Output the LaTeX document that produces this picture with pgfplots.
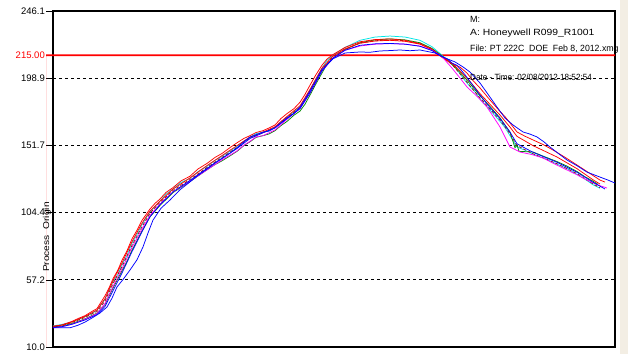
\documentclass[border=0pt]{standalone}
\usepackage{fontspec}
\setmainfont{Liberation Sans}
\usepackage{pgfplots}
\pgfplotsset{compat=1.18}
\definecolor{mag}{RGB}{255,0,255}
\definecolor{cy}{RGB}{0,230,230}
\definecolor{gr}{RGB}{0,140,0}
\definecolor{dred}{RGB}{150,20,20}
\definecolor{beige}{RGB}{243,238,228}
\definecolor{limred}{RGB}{255,0,0}
\begin{document}
\begin{tikzpicture}[x=1pt,y=1pt]
\useasboundingbox (0,0) rectangle (628,354);
\fill[white] (0,0) rectangle (628,354);
\fill[beige] (620,0) rectangle (628,354);
\begin{axis}[
  at={(53pt,7pt)}, anchor=south west,
  scale only axis, width=562pt, height=336pt,
  xmin=53, xmax=615, ymin=10, ymax=246.1,
  axis line style={line width=1.8pt},
  xtick=\empty,
  ytick={10,57.2,104.4,151.7,198.9,246.1},
  yticklabels={10.0,57.2,104.4,151.7,198.9,246.1},
  yticklabel style={font=\fontsize{9.5}{10}\selectfont, inner xsep=1pt},
  tick align=outside, tick pos=left,
  major tick length=7pt,
  tick style={black, line width=0.6pt},
  ymajorgrids, major grid style={black, dashed, line width=0.7pt},
  clip=false,
  every axis plot/.append style={line width=0.75pt},
]
% limit line (as a thin filled band)
\addplot[fill=limred, draw=none, forget plot] coordinates {(46,214.4) (615,214.4) (615,215.6) (46,215.6)} \closedcycle;
% cyan
\addplot[cy] coordinates {(53,24.8) (62,25.9) (72,27.6) (79,29.6) (85,31.4) (91,33.2) (97,35.8) (105,43.5) (113,56) (118,61.2) (122,68) (127,74.3) (132,83) (137,89) (142,96) (150,105) (160,112.5) (166,117.4) (173,121) (181,125.6) (190,128.5) (198,133.2) (207,137) (215,141.1) (222,144) (230,147.6) (237,151) (244,154.7) (250,157.5) (256,159.9) (263,161) (269,162.2) (275,164.5) (281,168.4) (287,171.5) (294,175.3) (300,179) (305,183.7) (310,190.5) (316,198.5) (322,206) (327,211.4) (333,215) (345,220.5) (360,225.5) (375,227.8) (390,228.5) (405,227.8) (420,225.5) (432,221) (442,215) (452,209) (460,202) (465,197.2) (470,193) (475,189.2) (480,184.5) (490,176.5) (500,168.5) (505,164.2) (510,158.5) (517,150.5) (525,148.3) (533,145.5) (545,142.4) (557,138.5) (567,135.4) (577,131.3) (585,127.9) (593,124) (600,121.5)};
% green
\addplot[gr] coordinates {(53,24.1) (62,24.8) (72,26.5) (85,29.8) (97,33.8) (105,40) (109,45.6) (113,51.5) (122,63.5) (127,70.2) (132,78) (142,91.5) (150,101.5) (160,109.5) (173,118.5) (190,126.3) (207,134.5) (215,138.2) (222,140.8) (230,144.3) (237,147.5) (244,151.6) (250,154.2) (256,157.3) (263,158.5) (269,159.7) (275,162) (281,165.6) (287,168.5) (294,172.9) (300,175.8) (305,180.6) (310,187) (316,195) (322,202.5) (327,208.8) (333,213) (345,219) (360,223.8) (375,225.8) (390,226.5) (405,225.8) (420,223.8) (432,219.8) (442,214.5) (452,208.5) (460,203) (470,195) (480,186.5) (490,179) (500,171) (510,161) (515,150) (517,152) (519,147.5) (533,147) (545,143.6) (557,140.3) (567,137.1) (577,133.3) (585,129.6) (593,126.5) (598,124.3)};
% dark red dashed
\addplot[dred, densely dashed] coordinates {(53,24.3) (62,25) (72,27.2) (85,30.8) (97,35) (105,42.3) (113,54.5) (122,66.5) (132,81.3) (142,94.5) (150,104) (160,111.7) (173,120) (190,127.7) (207,136.2) (222,143.2) (237,150.2) (250,157) (263,160.6) (275,164.2) (287,171.2) (300,178.3) (310,189.6) (322,205) (333,214) (345,219.2) (360,223.5) (375,225.2) (390,225.8) (405,225.2) (420,223.3) (432,219.5) (442,214.3) (452,208.5) (460,202) (470,193.5) (480,185) (490,177.3) (500,169.5) (510,159.8) (517,151.5) (533,145.8) (557,138.8) (577,131.8) (593,124.6) (600,122)};
% red A
\addplot[red] coordinates {(53,24.5) (62,25.5) (72,28) (79,30.3) (85,32) (91,34.6) (97,37) (105,46) (109,51.4) (113,58) (118,64.2) (122,71) (127,77.6) (132,86) (137,92.1) (142,99) (150,107) (155,110.9) (160,114) (166,118.6) (173,122) (181,126.7) (190,130) (198,135.1) (207,139) (215,143.2) (222,146) (230,150.1) (237,153.5) (244,156.6) (250,158.5) (256,160.7) (263,162) (269,163.9) (275,166) (281,170.6) (287,174) (294,177.5) (300,182) (305,187.5) (310,194) (316,201.4) (322,208) (327,212.3) (333,215.5) (345,220.5) (360,224.5) (375,226) (390,226.5) (405,225.5) (420,223) (432,219) (442,213.5) (452,209) (460,206.7) (467,202.5) (473,197.2) (480,192) (490,183.6) (500,175.5) (505,171.9) (510,167.4) (517,161.1) (525,158.1) (533,155.5) (543,152.3) (553,148.4) (565,143.3) (577,137.9) (588,132.8) (600,127.3) (605,125.9)};
% red B
\addplot[red] coordinates {(53,24.6) (62,25.4) (72,27.6) (85,31.5) (97,36) (105,44) (113,56.5) (122,69) (132,84) (142,97) (150,105.5) (160,112.5) (173,121) (190,128.8) (207,137.5) (222,144.5) (237,151.5) (250,157.5) (263,161) (275,164.8) (287,172) (300,179.5) (310,191) (322,206) (333,214.5) (345,219.5) (360,223.5) (375,225) (390,225.5) (405,224.8) (420,222.8) (432,219) (442,214) (452,209.5) (460,204) (470,196.5) (480,188) (490,180.5) (500,173) (510,164.5) (517,158) (533,151.5) (557,143.5) (577,135.3) (593,127.5) (600,124.5)};
% magenta
\addplot[mag] coordinates {(53,23.5) (62,24.2) (72,26) (85,29.5) (97,33.5) (105,40.5) (113,52.5) (122,65) (132,80) (142,93) (150,102.5) (160,110.5) (173,119) (190,126.5) (207,134.5) (222,141.5) (230,144.8) (237,147.8) (244,151.9) (250,154.5) (256,157.6) (263,158.5) (275,162.5) (287,170) (300,177.5) (310,188.5) (322,204) (333,213) (345,218.5) (360,221.5) (375,222.8) (390,223.2) (405,222.8) (420,221.5) (432,218.5) (442,214) (452,206) (460,199) (467,192.7) (477,186.2) (487,178.6) (500,164.6) (510,150.5) (520,147) (532,145.2) (543,142.8) (555,138.5) (567,134.4) (577,131) (587,127.3) (597,124.1) (607,121.7)};
% blue B
\addplot[blue] coordinates {(53,23.8) (62,24.3) (72,26) (85,29) (97,32.8) (105,38.5) (113,49.5) (122,62) (132,77) (142,91) (150,101.5) (160,110) (173,119) (190,127) (207,135.5) (222,142.5) (237,149.5) (250,156.5) (263,160.5) (275,164) (287,170.5) (300,177.5) (310,188.5) (322,204) (333,213) (345,218.5) (360,222) (375,223) (390,223.3) (405,222.8) (420,221.3) (432,218.3) (442,214) (447,212.6) (452,209.5) (457,207.9) (460,205.5) (465,201.3) (470,196.5) (480,187) (490,178.3) (500,170.5) (510,161) (517,152.8) (533,146.8) (557,139.8) (577,132.8) (593,125.8) (605,121)};
% blue A
\addplot[blue] coordinates {(53,23.5) (70,23.5) (78,25.3) (85,27.5) (93,30.8) (100,33.9) (107,38.1) (112,44.3) (117,52.2) (123,57.4) (130,64.1) (137,71.3) (143,80.3) (148,90.1) (153,99.2) (161,107.5) (170,113.3) (180,120.5) (190,126) (198,130.6) (207,135) (215,139.4) (222,142.5) (230,146.2) (237,150) (244,154.3) (250,157.5) (256,159.1) (263,161) (269,161.7) (275,164) (281,167.6) (287,171) (294,174.1) (300,178.5) (310,190) (322,205) (333,212.5) (345,216.6) (360,217.3) (370,217.1) (380,218) (390,218.3) (400,218.7) (410,218.2) (420,218.7) (435,216.6) (445,213.1) (455,210.3) (463,206.8) (470,203.2) (480,195.5) (489,186.6) (497,178.6) (505,170.9) (513,166) (523,161.1) (530,159.6) (537,157.6) (544,154.1) (550,150.5) (558,146.2) (567,141.4) (577,137.4) (587,132.9) (600,129.4) (608,127.3) (615,125.2)};
\node[anchor=east, text=limred, font=\fontsize{9.5}{10}\selectfont, inner xsep=1pt] at ([xshift=-7pt]axis cs:53,215) {215.00};
\node[anchor=base west, font=\fontsize{9}{10}\selectfont, inner sep=0pt] at (axis cs:470,237.8) {M:};
\node[anchor=base west, font=\fontsize{9}{10}\selectfont, inner sep=0pt] at (axis cs:470,228.6) {\scalebox{1.15}[1]{A: Honeywell R099\_R1001}};
\node[anchor=base west, font=\fontsize{9}{10}\selectfont, inner sep=0pt] at (axis cs:470,217.3) {\scalebox{0.97}[1]{File: PT 222C\ \ DOE\ \ Feb 8, 2012.xmg}};
\node[anchor=base west, font=\fontsize{9}{10}\selectfont, inner sep=0pt] at (axis cs:470,197.2) {\scalebox{0.9}[1]{Date - Time: 02/08/2012 18:52:54}};
\node[rotate=90, font=\fontsize{8.5}{9}\selectfont, inner sep=0pt] at ([xshift=-6pt]rel axis cs:0,0.327) {\scalebox{1.2}[1]{Process\ \ Origin}};
\end{axis}
\end{tikzpicture}
\end{document}
